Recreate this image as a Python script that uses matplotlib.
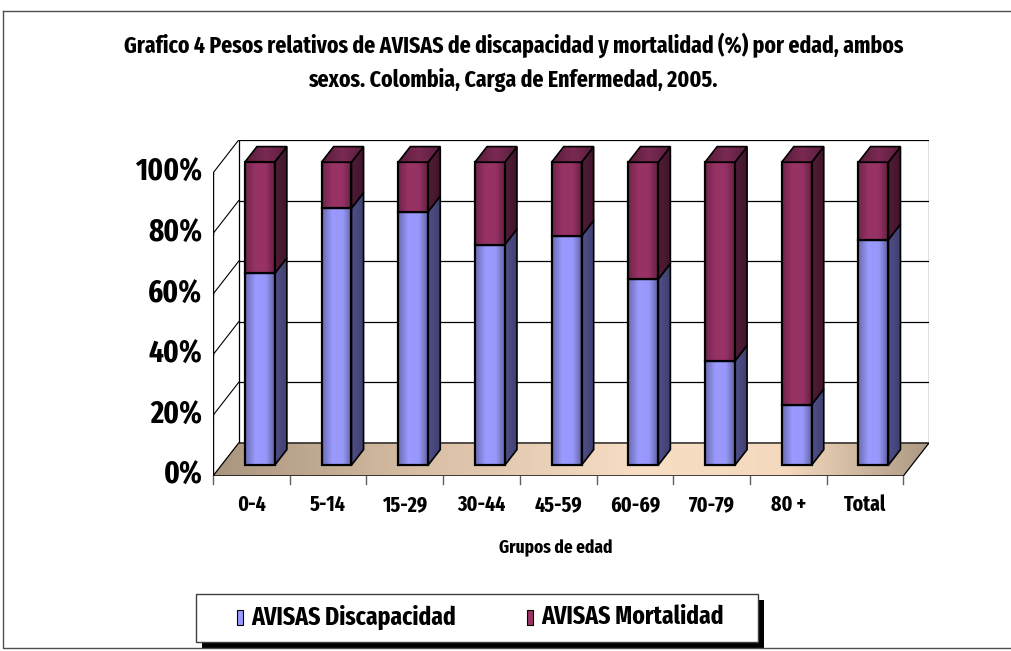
import numpy as np
import matplotlib
matplotlib.use('Agg')
import matplotlib.pyplot as plt
from matplotlib.patches import Polygon, Rectangle
from matplotlib.colors import LinearSegmentedColormap

plt.rcParams['font.family'] = ['Fira Sans Extra Condensed', 'DejaVu Sans']
plt.rcParams['font.weight'] = 'bold'

grupos = ['0-4', '5-14', '15-29', '30-44', '45-59', '60-69', '70-79', '80 +', 'Total']
discapacidad = [63.3, 84.8, 83.7, 72.8, 75.6, 61.4, 34.4, 20.0, 74.4]
mortalidad = [36.7, 15.2, 16.3, 27.2, 24.4, 38.6, 65.6, 80.0, 25.6]
yticks = [0, 20, 40, 60, 80, 100]

W, H = 1011, 651
fig = plt.figure(figsize=(W / 100, H / 100), dpi=100)

# depth of the fake 3d box, in data units
D, DY = 0.335, 10.9
t0, t1 = 0.33, 0.80
bw = 0.39
n = len(grupos)

# plot area: front plane x from 213 to 903 px, y 0 at 476 px
ax = fig.add_axes([213 / W, (H - 476) / H, (929 - 213) / W, (476 - 140) / H])
ax.set_xlim(-0.5, n - 0.5 + D)
ax.set_ylim(0, 100 + DY)
ax.axis('off')


def grad_poly(verts, colors, stops, z, lw=1.2):
    poly = Polygon(verts, closed=True, facecolor='none', edgecolor='black',
                   lw=lw, zorder=z + 0.1, joinstyle='miter')
    ax.add_patch(poly)
    xs = [v[0] for v in verts]
    ys = [v[1] for v in verts]
    img = np.linspace(0, 1, 256)[None, :]
    cmap = LinearSegmentedColormap.from_list('g', list(zip(stops, colors)))
    im = ax.imshow(img, extent=[min(xs), max(xs), min(ys), max(ys)], aspect='auto',
                   cmap=cmap, origin='lower', interpolation='bilinear', zorder=z)
    im.set_clip_path(poly)


# back wall
x0, x1 = -0.5 + D, n - 0.5 + D
ax.add_patch(Rectangle((x0, DY), x1 - x0, 100, facecolor='white', edgecolor='black',
                       lw=0.9, zorder=1))
for v in yticks[1:-1]:
    ax.plot([x0, x1], [v + DY, v + DY], color='black', lw=0.9, zorder=1.5)
# side wall diagonals
for v in yticks[1:]:
    ax.plot([-0.5, -0.5 + D], [v, v + DY], color='black', lw=0.8, zorder=1.5)

# floor
floor = [(-0.5, 0), (n - 0.5, 0), (n - 0.5 + D, DY), (-0.5 + D, DY)]
grad_poly(floor, ['#a9957f', '#d9bfa5', '#f8dec4', '#f4d9be', '#ad9984'],
          [0, 0.3, 0.6, 0.8, 1], 2, lw=0.9)

# bars
disc_front = ['#6a6ab0', '#9a9aff', '#9898fb', '#6262a0']
mort_front = ['#6e2449', '#993366', '#963265', '#65203f']
fst = [0, 0.35, 0.7, 1]
dd, ddy = (t1 - t0) * D, (t1 - t0) * DY
yb = t0 * DY
for i in range(n):
    z = 3 + i
    xl = i + t0 * D - bw / 2
    xr = xl + bw
    ym = yb + discapacidad[i]
    yt = ym + mortalidad[i]
    grad_poly([(xl, yb), (xr, yb), (xr, ym), (xl, ym)], disc_front, fst, z, lw=1.6)
    grad_poly([(xr, yb), (xr + dd, yb + ddy), (xr + dd, ym + ddy), (xr, ym)],
              ['#50508a', '#3e3e6e'], [0, 1], z, lw=1.2)
    grad_poly([(xl, ym), (xr, ym), (xr, yt), (xl, yt)], mort_front, fst, z + 0.2, lw=1.6)
    grad_poly([(xr, ym), (xr + dd, ym + ddy), (xr + dd, yt + ddy), (xr, yt)],
              ['#521c37', '#3f142a'], [0, 1], z + 0.2, lw=1.2)
    grad_poly([(xl, yt), (xr, yt), (xr + dd, yt + ddy), (xl + dd, yt + ddy)],
              ['#5a1d3c', '#7a2a52', '#5a1d3c'], [0, 0.5, 1], z + 0.3, lw=1.2)

# axes lines and ticks
ax.plot([-0.5, -0.5], [0, 100], color='black', lw=1.0, zorder=20)
ax.plot([-0.5, n - 0.5], [0, 0], color='black', lw=1.0, zorder=20)
for v in yticks:
    ax.plot([-0.58, -0.5], [v, v], color='black', lw=1.0, zorder=20)
    ax.text(-0.64, v, f'{v}%', ha='right', va='center', fontsize=22.5, zorder=20)
for k in range(n + 1):
    ax.plot([k - 0.5, k - 0.5], [0, -2.7], color='#606060', lw=1.0, zorder=20, clip_on=False)
for i, g in enumerate(grupos):
    ax.text(i, -9.6, g, ha='center', va='center', fontsize=15.5, zorder=20)

# overlay in pixel space for title, legend and frame
lay = fig.add_axes([0, 0, 1, 1], zorder=5)
lay.set_xlim(0, W)
lay.set_ylim(H, 0)
lay.axis('off')
lay.plot([3, 3, W + 5], [11, 648, 648], color='#505050', lw=1.0)
lay.plot([3, W + 5], [11, 11], color='#505050', lw=1.0)

lay.text(514, 45, 'Grafico 4 Pesos relativos de AVISAS de discapacidad y mortalidad (%) por edad, ambos',
         ha='center', va='center', fontsize=17)
lay.text(513, 80, 'sexos. Colombia, Carga de Enfermedad, 2005.',
         ha='center', va='center', fontsize=17)
lay.text(556, 548, 'Grupos de edad', ha='center', va='center', fontsize=13.5)

# legend
lay.add_patch(Rectangle((202, 600), 562, 48, facecolor='black', edgecolor='none'))
lay.add_patch(Rectangle((196, 594), 562, 48, facecolor='white', edgecolor='#404040', lw=1.0))
lay.add_patch(Rectangle((237, 610), 6, 15, facecolor='#9999ff', edgecolor='black', lw=0.8))
lay.add_patch(Rectangle((527, 610), 6, 15, facecolor='#993366', edgecolor='black', lw=0.8))
lay.text(251, 617, 'AVISAS Discapacidad', ha='left', va='center', fontsize=18.5)
lay.text(541, 617, 'AVISAS Mortalidad', ha='left', va='center', fontsize=18.5)

fig.savefig('out.png', dpi=100)
